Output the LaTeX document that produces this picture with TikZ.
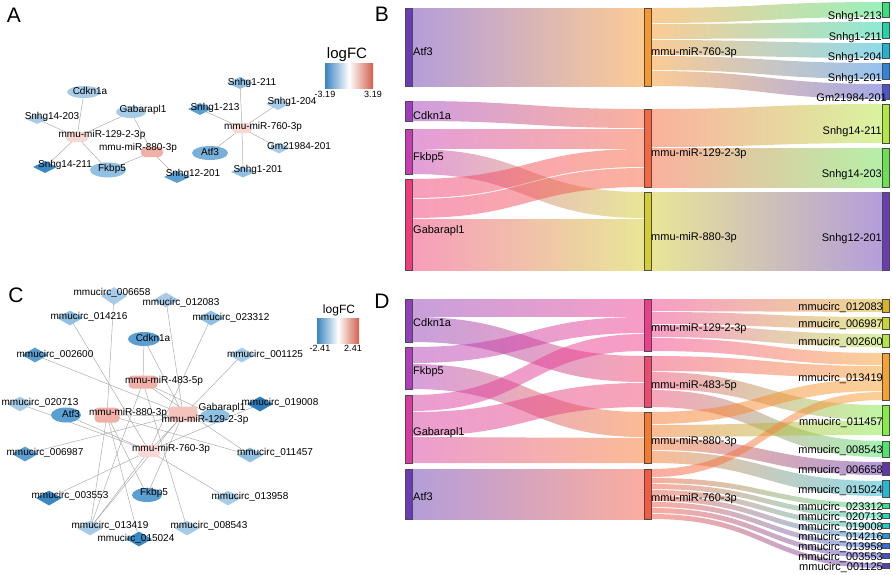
\documentclass[tikz,border=0pt]{standalone}
\usepackage{fontspec}
\setmainfont{Liberation Sans}
\usetikzlibrary{shapes.geometric}
\pgfdeclarelayer{background}
\pgfsetlayers{background,main}

% network colours (logFC scale)
\definecolor{edgegray}{HTML}{ADADAD}
\definecolor{fcblue}{HTML}{3A84C0}
\definecolor{fcred}{HTML}{D2604C}
\definecolor{lb1}{HTML}{A8CCE8}
\definecolor{lb2}{HTML}{90C0E2}
\definecolor{lb3}{HTML}{78B0DA}
\definecolor{lb4}{HTML}{5A9ED2}
\definecolor{lb5}{HTML}{3A88C4}
\definecolor{lb6}{HTML}{2A7CBC}
\definecolor{pk1}{HTML}{F8D8D4}
\definecolor{pk2}{HTML}{F4C4BC}
\definecolor{pk3}{HTML}{F0B0A8}
% sankey colours, panel B
\definecolor{bAtf}{HTML}{6A3CB4}
\definecolor{bCdk}{HTML}{A03CC0}
\definecolor{bFkb}{HTML}{C83CB4}
\definecolor{bGab}{HTML}{F03C78}
\definecolor{bm760}{HTML}{F8982C}
\definecolor{bm129}{HTML}{F8643C}
\definecolor{bm880}{HTML}{D4CC30}
\definecolor{bS213}{HTML}{38E078}
\definecolor{bS211}{HTML}{20D4A8}
\definecolor{bS204}{HTML}{20B4D4}
\definecolor{bS201}{HTML}{3084E0}
\definecolor{bGm}{HTML}{4C54D0}
\definecolor{bS14a}{HTML}{B4E840}
\definecolor{bS14b}{HTML}{6CE050}
\definecolor{bS12}{HTML}{6A3CB4}
% sankey colours, panel D
\definecolor{dCdk}{HTML}{9040B8}
\definecolor{dFkb}{HTML}{B040B8}
\definecolor{dGab}{HTML}{D83CA0}
\definecolor{dAtf}{HTML}{6A3CB4}
\definecolor{dm129}{HTML}{F03C8C}
\definecolor{dm483}{HTML}{F04870}
\definecolor{dm880}{HTML}{F8782C}
\definecolor{dm760}{HTML}{F85A40}
\definecolor{d12083}{HTML}{D8B424}
\definecolor{d06987}{HTML}{C8D430}
\definecolor{d02600}{HTML}{B4E444}
\definecolor{d13419}{HTML}{F8A030}
\definecolor{d11457}{HTML}{84EC44}
\definecolor{d08543}{HTML}{50E46C}
\definecolor{d06658}{HTML}{6434B0}
\definecolor{d15024}{HTML}{24B8D4}
\definecolor{d23312}{HTML}{34E484}
\definecolor{d20713}{HTML}{20DCB0}
\definecolor{d19008}{HTML}{20CCC4}
\definecolor{d14216}{HTML}{2098E0}
\definecolor{d13958}{HTML}{3070E4}
\definecolor{d03553}{HTML}{4050D4}
\definecolor{d01125}{HTML}{5040C0}

% sankey band: x1, x2, top1, bottom1, top2, bottom2, colour1, colour2
\newcommand{\sband}[8]{%
  \shade[left color=#7, right color=#8, opacity=0.5]
    (#1,#3) .. controls ({(#1+#2)/2},#3) and ({(#1+#2)/2},#5) .. (#2,#5)
    -- (#2,#6) .. controls ({(#1+#2)/2},#6) and ({(#1+#2)/2},#4) .. (#1,#4) -- cycle;}
% sankey bar: x, top, bottom, colour
\newcommand{\sbar}[4]{\draw[sbarline, fill=#4] (#1,#2) rectangle ({#1+7},#3);}

\tikzset{
  nedge/.style={draw=edgegray, line width=0.5pt},
  lnc/.style={diamond, inner sep=0pt, minimum width=24pt, minimum height=12pt},
  circ/.style={diamond, inner sep=0pt, minimum width=26pt, minimum height=15pt},
  gene/.style={ellipse, inner sep=0pt},
  mir/.style={rectangle, rounded corners=4pt, inner sep=0pt},
  alab/.style={inner sep=0pt, font=\fontsize{10}{12}\selectfont},
  slab/.style={inner sep=0pt, font=\fontsize{11}{13}\selectfont, text height=8pt, text depth=2pt},
  cbtick/.style={inner sep=0pt, font=\fontsize{9}{10}\selectfont},
  panel/.style={inner sep=0pt, font=\fontsize{21}{21}\selectfont},
  sbarline/.style={draw=black!70, line width=0.4pt},
}

\begin{document}
\begin{tikzpicture}[x=1pt, y=-1pt]
\useasboundingbox (0,0) rectangle (892,574);

% ---------- A: lncRNA network
\node[panel] (pA) at (14,15) {A};
\node[gene, fill=lb1, minimum width=34pt, minimum height=12pt] (aCdk) at (84,92) {};
\node[gene, fill=lb1, minimum width=30pt, minimum height=12pt] (aGab) at (131,112) {};
\node[lnc, fill=lb1, minimum width=22pt, minimum height=10pt] (aS14c) at (37,119) {};
\node[mir, fill=pk1, minimum width=22pt, minimum height=10pt] (a129) at (77,137) {};
\node[lnc, fill=lb5] (aS14a) at (45,167) {};
\node[gene, fill=lb2, minimum width=36pt, minimum height=15pt] (aFkb) at (108,170) {};
\node[mir, fill=pk3, minimum width=22pt, minimum height=10pt] (a880) at (152,152) {};
\node[lnc, fill=lb4, minimum width=26pt] (aS12) at (177,177) {};
\node[lnc, fill=lb2, minimum width=26pt] (aS1a) at (240,83) {};
\node[lnc, fill=lb4] (aS1c) at (200,109) {};
\node[lnc, fill=lb1] (aS1b) at (278,104) {};
\node[mir, fill=pk1, minimum width=20pt, minimum height=10pt] (a760) at (242,128) {};
\node[lnc, fill=lb1, minimum width=22pt, minimum height=11pt] (aGm) at (279,148) {};
\node[gene, fill=lb3, minimum width=36pt, minimum height=14pt] (aAtf) at (210,153) {};
\node[lnc, fill=lb2, minimum height=11pt] (aS1d) at (243,172) {};
\begin{pgfonlayer}{background}
\foreach \m/\t in {a129/aCdk, a129/aS14c, a129/aGab, a129/aS14a, a129/aFkb,
                   a880/aGab, a880/aFkb, a880/aS12,
                   a760/aS1a, a760/aS1c, a760/aS1b, a760/aGm, a760/aAtf, a760/aS1d}
  \draw[nedge] (\m.center) -- (\t.center);
\end{pgfonlayer}
\node[alab] (aCdk-t) at (90,91) {Cdkn1a};
\node[alab] (aGab-t) at (143,110) {Gabarapl1};
\node[alab] (aS14c-t) at (52,117) {Snhg14-203};
\node[alab] (a129-t) at (102,135) {mmu-miR-129-2-3p};
\node[alab] (aS14a-t) at (65,165) {Snhg14-211};
\node[alab] (aFkb-t) at (112,169) {Fkbp5};
\node[alab] (a880-t) at (138,148) {mmu-miR-880-3p};
\node[alab] (aS12-t) at (193,174) {Snhg12-201};
\node[alab] (aS1a-t) at (252,83) {Snhg1-211};
\node[alab] (aS1c-t) at (215,108) {Snhg1-213};
\node[alab] (aS1b-t) at (292,102) {Snhg1-204};
\node[alab] (a760-t) at (263,127) {mmu-miR-760-3p};
\node[alab] (aGm-t) at (299,146) {Gm21984-201};
\node[alab] (aAtf-t) at (210,152) {Atf3};
\node[alab] (aS1d-t) at (258,170) {Snhg1-201};
% colour key
\shade[left color=fcblue, right color=fcred, middle color=white] (325,63) rectangle (373,88);
\node[inner sep=0pt, font=\fontsize{15}{15}\selectfont] (aKey) at (347,55) {logFC};
\node[cbtick] (aKeyLo) at (325,94) {-3.19};
\node[cbtick] (aKeyHi) at (373,94) {3.19};

% ---------- B: lncRNA sankey
\node[panel] (pB) at (382,14) {B};
\sband{412}{644}{8}{86}{8}{86}{bAtf}{bm760}
\sband{412}{644}{101}{121}{109}{128}{bCdk}{bm129}
\sband{412}{644}{129}{148}{129}{148}{bFkb}{bm129}
\sband{412}{644}{149}{174}{192}{218}{bFkb}{bm880}
\sband{412}{644}{179}{198}{149}{167}{bGab}{bm129}
\sband{412}{644}{199}{218}{168}{187}{bGab}{bm129}
\sband{412}{644}{219}{244}{219}{244}{bGab}{bm880}
\sband{412}{644}{245}{270}{245}{270}{bGab}{bm880}
\sband{651}{882}{8}{23}{2}{17}{bm760}{bS213}
\sband{651}{882}{24}{39}{22}{38}{bm760}{bS211}
\sband{651}{882}{40}{55}{43}{58}{bm760}{bS204}
\sband{651}{882}{56}{70}{63}{79}{bm760}{bS201}
\sband{651}{882}{71}{86}{84}{99}{bm760}{bGm}
\sband{651}{882}{109}{147}{104}{143}{bm129}{bS14a}
\sband{651}{882}{148}{187}{148}{187}{bm129}{bS14b}
\sband{651}{882}{192}{270}{192}{270}{bm880}{bS12}
\sbar{405}{8}{86}{bAtf}
\sbar{405}{101}{121}{bCdk}
\sbar{405}{129}{174}{bFkb}
\sbar{405}{179}{270}{bGab}
\sbar{644}{8}{86}{bm760}
\sbar{644}{109}{187}{bm129}
\sbar{644}{192}{270}{bm880}
\sbar{882}{2}{17}{bS213}
\sbar{882}{22}{38}{bS211}
\sbar{882}{43}{58}{bS204}
\sbar{882}{63}{79}{bS201}
\sbar{882}{84}{99}{bGm}
\sbar{882}{104}{143}{bS14a}
\sbar{882}{148}{187}{bS14b}
\sbar{882}{192}{270}{bS12}
\node[slab, anchor=west] (bAtf-t) at (413,52) {Atf3};
\node[slab, anchor=west] (bCdk-t) at (413,116) {Cdkn1a};
\node[slab, anchor=west] (bFkb-t) at (413,157) {Fkbp5};
\node[slab, anchor=west] (bGab-t) at (413,230) {Gabarapl1};
\node[slab, anchor=west] (bm760-t) at (651,52) {mmu-miR-760-3p};
\node[slab, anchor=west] (bm129-t) at (651,153) {mmu-miR-129-2-3p};
\node[slab, anchor=west] (bm880-t) at (651,237) {mmu-miR-880-3p};
\node[slab, anchor=east] (bS213-t) at (882,16) {Snhg1-213};
\node[slab, anchor=east] (bS211-t) at (882,37) {Snhg1-211};
\node[slab, anchor=east] (bS204-t) at (882,57) {Snhg1-204};
\node[slab, anchor=east] (bS201-t) at (882,78) {Snhg1-201};
\node[slab, anchor=east] (bGm-t) at (887,98) {Gm21984-201};
\node[slab, anchor=east] (bS14a-t) at (882,131) {Snhg14-211};
\node[slab, anchor=east] (bS14b-t) at (882,174) {Snhg14-203};
\node[slab, anchor=east] (bS12-t) at (882,238) {Snhg12-201};

% ---------- C: circRNA network
\node[panel] (pC) at (16,295) {C};
\node[gene, fill=lb4, minimum width=32pt, minimum height=14pt] (cCdk) at (144,339) {};
\node[gene, fill=lb4, minimum width=30pt, minimum height=15pt] (cAtf) at (66,415) {};
\node[gene, fill=lb4, minimum width=30pt, minimum height=14pt] (cFkb) at (147,495) {};
\node[gene, fill=lb2, minimum width=30pt, minimum height=14pt] (cGab) at (215,416) {};
\node[mir, fill=pk3, minimum width=29pt, minimum height=13pt] (c483) at (143,382) {};
\node[mir, fill=pk3, minimum width=25pt, minimum height=15pt] (c880) at (107,415) {};
\node[mir, fill=pk2, minimum width=29pt, minimum height=15pt] (c129) at (183,414) {};
\node[mir, fill=pk1, minimum width=22pt, minimum height=12pt] (c760) at (149,451) {};
\node[circ, fill=lb1, minimum height=18pt] (x06658) at (114,296) {};
\node[circ, fill=lb1] (x12083) at (166,300) {};
\node[circ, fill=lb2] (x14216) at (70,318) {};
\node[circ, fill=lb2] (x23312) at (211,318) {};
\node[circ, fill=lb4] (x02600) at (35,355) {};
\node[circ, fill=lb1] (x01125) at (242,355) {};
\node[circ, fill=lb1] (x20713) at (20,404) {};
\node[circ, fill=lb6] (x19008) at (260,404) {};
\node[circ, fill=lb4] (x06987) at (25,454) {};
\node[circ, fill=lb2] (x11457) at (250,455) {};
\node[circ, fill=lb5] (x03553) at (49,498) {};
\node[circ, fill=lb1] (x13958) at (228,498) {};
\node[circ, fill=lb1] (x13419) at (90,528) {};
\node[circ, fill=lb1] (x08543) at (187,528) {};
\node[circ, fill=lb5] (x15024) at (139,539) {};
\begin{pgfonlayer}{background}
\foreach \m/\t in {c129/cCdk, c483/cCdk, c129/cFkb, c880/cFkb, c129/cGab, c483/cGab, c880/cGab, c760/cAtf,
                   c129/x12083, c129/x06987, c129/x02600, c129/x13419,
                   c483/x13419, c483/x11457, c483/x08543,
                   c880/x13419, c880/x11457, c880/x06658, c880/x15024,
                   c760/x13419, c760/x23312, c760/x20713, c760/x19008, c760/x14216,
                   c760/x13958, c760/x03553, c760/x01125}
  \draw[nedge] (\m.center) -- (\t.center);
\end{pgfonlayer}
\node[alab] (cCdk-t) at (153,338) {Cdkn1a};
\node[alab] (cAtf-t) at (71,414) {Atf3};
\node[alab] (cFkb-t) at (154,493) {Fkbp5};
\node[alab] (cGab-t) at (222,408) {Gabarapl1};
\node[alab] (c483-t) at (164,381) {mmu-miR-483-5p};
\node[alab] (c880-t) at (128,413) {mmu-miR-880-3p};
\node[alab] (c129-t) at (205,420) {mmu-miR-129-2-3p};
\node[alab] (c760-t) at (171,449) {mmu-miR-760-3p};
\node[alab] (x06658-t) at (112,293) {mmucirc\_006658};
\node[alab] (x12083-t) at (181,303) {mmucirc\_012083};
\node[alab] (x14216-t) at (89,317) {mmucirc\_014216};
\node[alab] (x23312-t) at (231,318) {mmucirc\_023312};
\node[alab] (x02600-t) at (55,355) {mmucirc\_002600};
\node[alab] (x01125-t) at (265,355) {mmucirc\_001125};
\node[alab] (x20713-t) at (40,403) {mmucirc\_020713};
\node[alab] (x19008-t) at (280,403) {mmucirc\_019008};
\node[alab] (x06987-t) at (45,453) {mmucirc\_006987};
\node[alab] (x11457-t) at (275,453) {mmucirc\_011457};
\node[alab] (x03553-t) at (70,496) {mmucirc\_003553};
\node[alab] (x13958-t) at (250,497) {mmucirc\_013958};
\node[alab] (x13419-t) at (110,526) {mmucirc\_013419};
\node[alab] (x08543-t) at (209,526) {mmucirc\_008543};
\node[alab] (x15024-t) at (136,539) {mmucirc\_015024};
% colour key
\shade[left color=fcblue, right color=fcred, middle color=white] (317,318) rectangle (359,343);
\node[inner sep=0pt, font=\fontsize{12}{12}\selectfont] (cKey) at (339,310) {logFC};
\node[cbtick] (cKeyLo) at (320,348) {-2.41};
\node[cbtick] (cKeyHi) at (353,348) {2.41};

% ---------- D: circRNA sankey
\node[panel] (pD) at (382,301) {D};
\sband{412}{644}{299}{316}{299}{316}{dCdk}{dm129}
\sband{412}{644}{317}{342}{356}{382}{dCdk}{dm483}
\sband{412}{644}{347}{363}{317}{333}{dFkb}{dm129}
\sband{412}{644}{364}{389}{412}{437}{dFkb}{dm880}
\sband{412}{644}{395}{411}{334}{351}{dGab}{dm129}
\sband{412}{644}{412}{436}{383}{407}{dGab}{dm483}
\sband{412}{644}{437}{463}{438}{463}{dGab}{dm880}
\sband{412}{644}{469}{519}{469}{519}{dAtf}{dm760}
\sband{651}{882}{299}{311}{299}{312}{dm129}{d12083}
\sband{651}{882}{312}{324}{317}{329}{dm129}{d06987}
\sband{651}{882}{325}{337}{334}{347}{dm129}{d02600}
\sband{651}{882}{338}{351}{353}{365}{dm129}{d13419}
\sband{651}{882}{356}{371}{366}{378}{dm483}{d13419}
\sband{651}{882}{372}{389}{405}{420}{dm483}{d11457}
\sband{651}{882}{390}{407}{441}{457}{dm483}{d08543}
\sband{651}{882}{412}{424}{379}{391}{dm880}{d13419}
\sband{651}{882}{425}{437}{421}{435}{dm880}{d11457}
\sband{651}{882}{438}{450}{462}{475}{dm880}{d06658}
\sband{651}{882}{451}{463}{481}{496}{dm880}{d15024}
\sband{651}{882}{469}{477}{392}{400}{dm760}{d13419}
\sband{651}{882}{478}{483}{503}{508}{dm760}{d23312}
\sband{651}{882}{484}{489}{513}{518}{dm760}{d20713}
\sband{651}{882}{490}{495}{523}{528}{dm760}{d19008}
\sband{651}{882}{496}{501}{533}{538}{dm760}{d14216}
\sband{651}{882}{502}{507}{543}{548}{dm760}{d13958}
\sband{651}{882}{508}{513}{553}{558}{dm760}{d03553}
\sband{651}{882}{514}{519}{563}{568}{dm760}{d01125}
\sbar{405}{299}{342}{dCdk}
\sbar{405}{347}{389}{dFkb}
\sbar{405}{395}{463}{dGab}
\sbar{405}{469}{519}{dAtf}
\sbar{644}{299}{351}{dm129}
\sbar{644}{356}{407}{dm483}
\sbar{644}{412}{463}{dm880}
\sbar{644}{469}{519}{dm760}
\sbar{882}{299}{312}{d12083}
\sbar{882}{317}{329}{d06987}
\sbar{882}{334}{347}{d02600}
\sbar{882}{353}{400}{d13419}
\sbar{882}{405}{435}{d11457}
\sbar{882}{441}{457}{d08543}
\sbar{882}{462}{475}{d06658}
\sbar{882}{480}{497}{d15024}
\sbar{882}{503}{508}{d23312}
\sbar{882}{513}{518}{d20713}
\sbar{882}{523}{528}{d19008}
\sbar{882}{533}{538}{d14216}
\sbar{882}{543}{548}{d13958}
\sbar{882}{553}{558}{d03553}
\sbar{882}{563}{568}{d01125}
\node[slab, anchor=west] (dCdk-t) at (413,323) {Cdkn1a};
\node[slab, anchor=west] (dFkb-t) at (413,371) {Fkbp5};
\node[slab, anchor=west] (dGab-t) at (413,432) {Gabarapl1};
\node[slab, anchor=west] (dAtf-t) at (413,497) {Atf3};
\node[slab, anchor=west] (dm129-t) at (651,328) {mmu-miR-129-2-3p};
\node[slab, anchor=west] (dm483-t) at (651,385) {mmu-miR-483-5p};
\node[slab, anchor=west] (dm880-t) at (651,441) {mmu-miR-880-3p};
\node[slab, anchor=west] (dm760-t) at (651,498) {mmu-miR-760-3p};
\node[slab, anchor=east] (d12083-t) at (883,307) {mmucirc\_012083};
\node[slab, anchor=east] (d06987-t) at (883,324) {mmucirc\_006987};
\node[slab, anchor=east] (d02600-t) at (883,342) {mmucirc\_002600};
\node[slab, anchor=east] (d13419-t) at (883,378) {mmucirc\_013419};
\node[slab, anchor=east] (d11457-t) at (883,422) {mmucirc\_011457};
\node[slab, anchor=east] (d08543-t) at (883,450) {mmucirc\_008543};
\node[slab, anchor=east] (d06658-t) at (883,470) {mmucirc\_006658};
\node[slab, anchor=east] (d15024-t) at (883,490) {mmucirc\_015024};
\node[slab, anchor=east] (d23312-t) at (883,507) {mmucirc\_023312};
\node[slab, anchor=east] (d20713-t) at (883,517) {mmucirc\_020713};
\node[slab, anchor=east] (d19008-t) at (883,527) {mmucirc\_019008};
\node[slab, anchor=east] (d14216-t) at (883,537) {mmucirc\_014216};
\node[slab, anchor=east] (d13958-t) at (883,547) {mmucirc\_013958};
\node[slab, anchor=east] (d03553-t) at (883,557) {mmucirc\_003553};
\node[slab, anchor=east] (d01125-t) at (883,567) {mmucirc\_001125};
\end{tikzpicture}
\end{document}
